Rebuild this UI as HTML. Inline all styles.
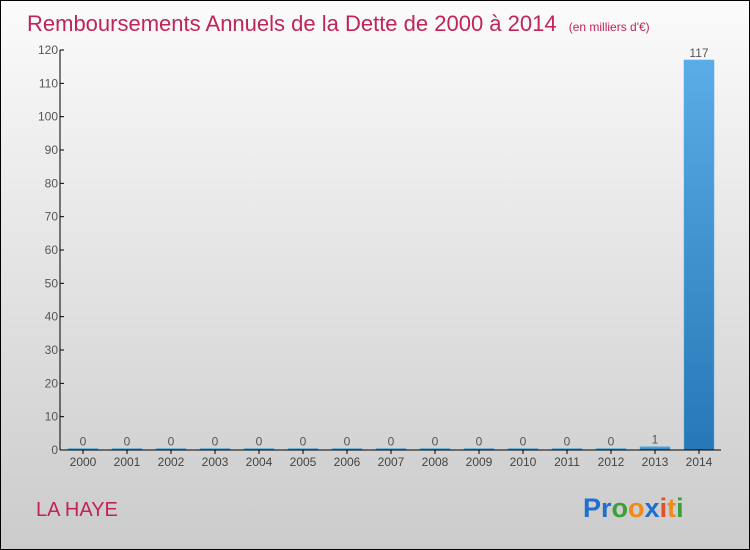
<!DOCTYPE html>
<html><head><meta charset="utf-8"><style>
body{margin:0}
#c{width:748px;height:548px;border:1px solid #000;background:linear-gradient(#fbfbfb,#cbcbcb);position:relative;font-family:"Liberation Sans",sans-serif;overflow:hidden}
</style></head><body>
<div id="c">
<svg id="s" width="748" height="548" style="position:absolute;left:0;top:0">
<defs><linearGradient id="bg" x1="0" y1="0" x2="0" y2="1"><stop offset="0" stop-color="#5aade6"/><stop offset="1" stop-color="#2677b6"/></linearGradient></defs>
<text x="26" y="30" font-size="22" fill="#c0245a">Remboursements Annuels de la Dette de 2000 à 2014 <tspan font-size="12" dx="6">(en milliers d'€)</tspan></text>
<text x="35" y="515" font-size="20" fill="#c0245a">LA HAYE</text>
<text x="582" y="516" font-size="27" font-weight="bold"><tspan fill="#1e6fcf">Pr</tspan><tspan fill="#3aa03a">o</tspan><tspan fill="#f08a1a">o</tspan><tspan fill="#1e6fcf">x</tspan><tspan fill="#e0502a">i</tspan><tspan fill="#f08a1a">t</tspan><tspan fill="#3aa03a">i</tspan></text>
<g id="g"></g>
</svg>
</div>
<script>
const categories=["2000","2001","2002","2003","2004","2005","2006","2007","2008","2009","2010","2011","2012","2013","2014"];
const values=[0,0,0,0,0,0,0,0,0,0,0,0,0,1,117];
const yTicks=[0,10,20,30,40,50,60,70,80,90,100,110,120];
const x0=59,band=44,y0=449,yMax=120,yTop=49;
const y=v=>y0-(v/yMax)*(y0-yTop);
const xc=i=>x0+band*i+band/2+1;
const g=document.getElementById('g');
const NS='http://www.w3.org/2000/svg';
function mk(t,a){const e=document.createElementNS(NS,t);for(const k in a)e.setAttribute(k,a[k]);g.appendChild(e);return e;}
values.forEach((v,i)=>{
 const h=Math.max(y0-y(v),1.5);
 const r=mk('rect',{x:xc(i)-15,y:y0-h,width:30,height:h,fill:'url(#bg)',stroke:'#5aade6','stroke-width':0.5});
 
 
 const t=mk('text',{x:xc(i),y:y0-h-3,'font-size':12,fill:'#555','text-anchor':'middle'});
 t.textContent=v;
 
 
 const tk=mk('line',{x1:xc(i),x2:xc(i),y1:y0,y2:y0+4,stroke:'#000'});
 
 
 const l=mk('text',{x:xc(i),y:y0+16,'font-size':12,fill:'#444','text-anchor':'middle'});
 l.textContent=categories[i];
 
 
});
yTicks.forEach(v=>{
 const tk=mk('line',{x1:x0,x2:x0+4,y1:y(v),y2:y(v),stroke:'#000'});
 
 
 const l=mk('text',{x:x0-2,y:y(v)+4,'font-size':12,fill:'#555','text-anchor':'end'});
 l.textContent=v;
 
 
});
const ya=mk('line',{x1:x0,x2:x0,y1:yTop,y2:y0,stroke:'#000'});


const xa=mk('line',{x1:x0,x2:x0+band*15+1,y1:y0,y2:y0,stroke:'#000'});


</script>
</body></html>
